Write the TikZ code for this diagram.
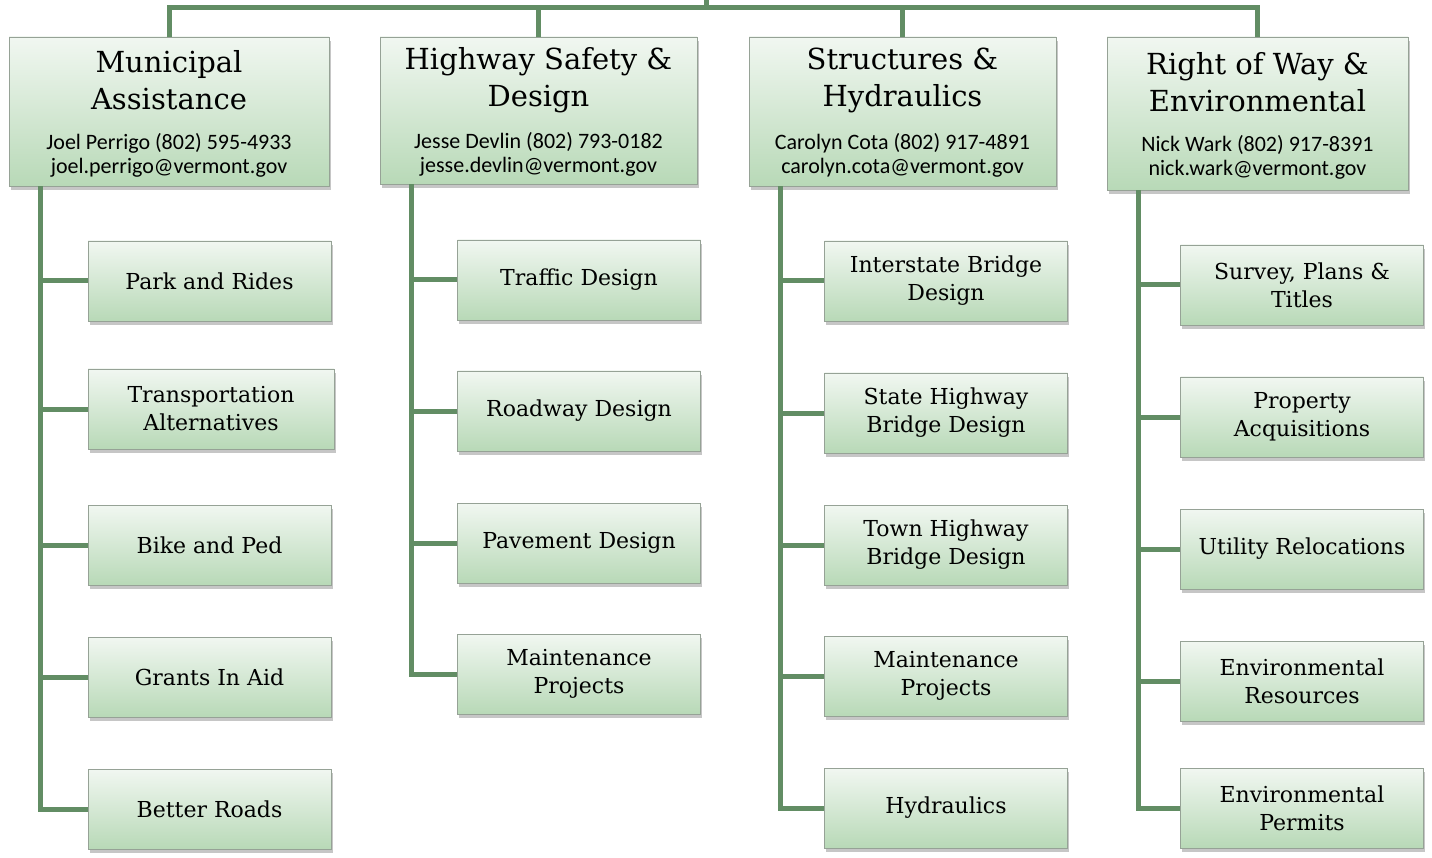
\documentclass[tikz,border=0pt]{standalone}
\usepackage{fontspec}
\setmainfont{Carlito}
\newfontfamily\slab{DejaVu Serif}
\usetikzlibrary{shadows}

\definecolor{linkgreen}{RGB}{98,141,100}
\definecolor{boxtop}{RGB}{241,247,241}
\definecolor{boxbot}{RGB}{184,217,183}
\definecolor{boxline}{RGB}{150,162,150}

\begin{document}
\begin{tikzpicture}[x=1pt,y=-1pt,
    box/.style={draw=boxline,line width=0.8pt,top color=boxtop,bottom color=boxbot,
        drop shadow={shadow xshift=1.5pt,shadow yshift=-4pt,opacity=0.45},inner sep=0pt},
    head/.style={box,minimum height=149pt},
    unit/.style={box,minimum width=243pt,minimum height=80pt,align=center,
        font=\slab\fontsize{22}{28}\selectfont},
    title/.style={align=center,font=\slab\fontsize{29}{37}\selectfont},
    contact/.style={align=center,font=\fontsize{22}{24}\selectfont},
    link/.style={draw=linkgreen,line width=5pt}]

    \useasboundingbox (0,0) rectangle (1432,858);

    % heads
    \node[head,minimum width=320pt] (ma) at (169,111.5) {};
    \node[head,minimum width=317pt,minimum height=147pt] (hs) at (538.5,110.5) {};
    \node[head,minimum width=307pt] (sh) at (902.5,111.5) {};
    \node[head,minimum width=301pt,minimum height=153pt] (rw) at (1257.5,113.5) {};

    \node[title] at (169,80) {Municipal\\Assistance};
    \node[contact] at (169,155) {Joel Perrigo (802) 595-4933\\joel.perrigo@vermont.gov};
    \node[title] at (538.5,80) {Highway Safety \&\\Design};
    \node[contact] at (538.5,154) {Jesse Devlin (802) 793-0182\\jesse.devlin@vermont.gov};
    \node[title] at (902.5,80) {Structures \&\\Hydraulics};
    \node[contact] at (902.5,155) {Carolyn Cota (802) 917-4891\\carolyn.cota@vermont.gov};
    \node[title] at (1257.5,82) {Right of Way \&\\Environmental};
    \node[contact] at (1257.5,157) {Nick Wark (802) 917-8391\\nick.wark@vermont.gov};

    % Municipal Assistance
    \node[unit] (ma1) at (209.5,281) {Park and Rides};
    \node[unit,minimum width=246pt] (ma2) at (211,409) {Transportation\\Alternatives};
    \node[unit] (ma3) at (209.5,545) {Bike and Ped};
    \node[unit] (ma4) at (209.5,677) {Grants In Aid};
    \node[unit] (ma5) at (209.5,809) {Better Roads};

    % Highway Safety & Design
    \node[unit] (hs1) at (579,280) {Traffic Design};
    \node[unit] (hs2) at (579,411) {Roadway Design};
    \node[unit] (hs3) at (579,543) {Pavement Design};
    \node[unit] (hs4) at (579,674) {Maintenance\\Projects};

    % Structures & Hydraulics
    \node[unit] (sh1) at (946,281) {Interstate Bridge\\Design};
    \node[unit] (sh2) at (946,413) {State Highway\\Bridge Design};
    \node[unit] (sh3) at (946,545) {Town Highway\\Bridge Design};
    \node[unit] (sh4) at (946,676) {Maintenance\\Projects};
    \node[unit] (sh5) at (946,808) {Hydraulics};

    % Right of Way & Environmental
    \node[unit] (rw1) at (1302,285) {Survey, Plans \&\\Titles};
    \node[unit] (rw2) at (1302,417) {Property\\Acquisitions};
    \node[unit] (rw3) at (1302,549) {Utility Relocations};
    \node[unit] (rw4) at (1302,681) {Environmental\\Resources};
    \node[unit] (rw5) at (1302,808) {Environmental\\Permits};

    % connectors
    \coordinate (root) at (706,0);
    \coordinate (bar) at (706,8);
    \draw[link] (root) -- (bar);
    \draw[link] (ma.north) |- (bar) -| (rw.north);
    \draw[link] (hs.north) -- (hs.north |- bar);
    \draw[link] (sh.north) -- (sh.north |- bar);

    \foreach \h/\n in {ma/5,hs/4,sh/5,rw/5}
        \foreach \i in {1,...,\n}
            \draw[link] ([xshift=32pt]\h.south west) |- (\h\i.west);

\end{tikzpicture}
\end{document}
